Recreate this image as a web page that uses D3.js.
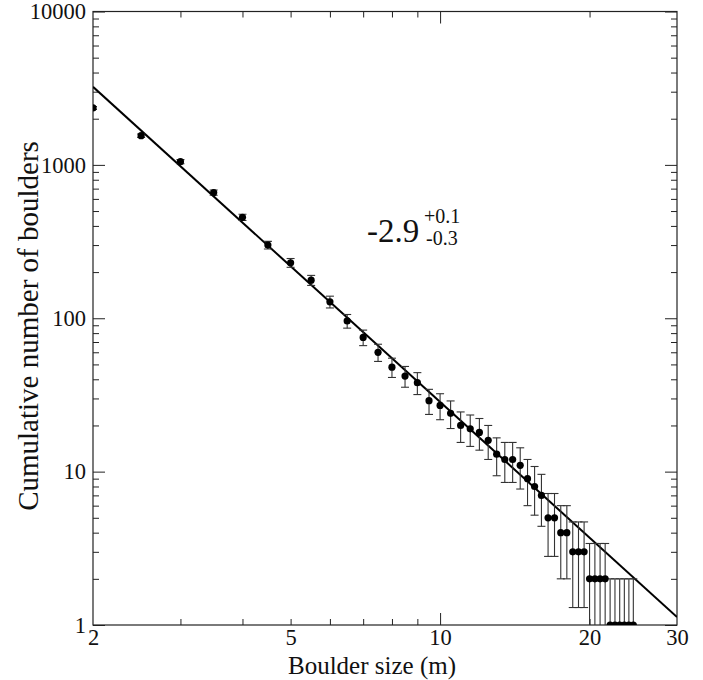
<!DOCTYPE html>
<html>
<head>
<meta charset="utf-8">
<script src="https://cdn.jsdelivr.net/npm/d3@7"></script>
<style>
  html, body { margin: 0; padding: 0; background: #fff; }
  svg { display: block; }
  text { font-family: "Liberation Serif", "Times New Roman", serif; fill: #111; }
</style>
</head>
<body>
<div id="chart"></div>
<script>
// ---- data ----
const boulderSize = [2.0, 2.5, 3.0, 3.5, 4.0, 4.5, 5.0, 5.5, 6.0, 6.5, 7.0, 7.5, 8.0, 8.5, 9.0, 9.5,
  10.0, 10.5, 11.0, 11.5, 12.0, 12.5, 13.0, 13.5, 14.0, 14.5, 15.0, 15.5, 16.0, 16.5, 17.0, 17.5,
  18.0, 18.5, 19.0, 19.5, 20.0, 20.5, 21.0, 21.5, 22.0, 22.5, 23.0, 23.5, 24.0, 24.5];
const cumulativeCount = [2350, 1550, 1050, 660, 455, 300, 230, 177, 128, 96, 75, 60, 48, 42, 38, 29,
  27, 24, 20, 19, 18, 16, 13, 12, 12, 11, 9, 8, 7, 5, 5, 4,
  4, 3, 3, 3, 2, 2, 2, 2, 1, 1, 1, 1, 1, 1];
const countError = [48.5, 39.4, 32.4, 25.7, 21.3, 17.3, 15.2, 13.3, 11.3, 9.8, 8.7, 7.7, 6.9, 6.5, 6.2, 5.4,
  5.2, 4.9, 4.5, 4.4, 4.2, 4.0, 3.6, 3.5, 3.5, 3.3, 3.0, 2.8, 2.6, 2.2, 2.2, 2.0,
  2.0, 1.7, 1.7, 1.7, 1.4, 1.4, 1.4, 1.4, 1.0, 1.0, 1.0, 1.0, 1.0, 1.0];
const fitAmplitude = 3230;     // N at 2 m
const fitExponent = -2.94;     // power-law slope
const fitRange = [2, 30];
const xTickLabels = [2, 5, 10, 20, 30];
const xMinorTicks = [3, 4, 5, 6, 7, 8, 9, 20];
const xMajorTicks = [10];
const yMajorTicks = [1, 10, 100, 1000, 10000];
const yMinorTicks = [2,3,4,5,6,7,8,9, 20,30,40,50,60,70,80,90, 200,300,400,500,600,700,800,900,
  2000,3000,4000,5000,6000,7000,8000,9000];
const slopeLabel = {main: "-2.9", plus: "+0.1", minus: "-0.3"};
const xTitle = "Boulder size (m)";
const yTitle = "Cumulative number of boulders";

// ---- layout ----
const W = 703, H = 680;
const L = 93, R = 677, T = 11.5, B = 625;

const svg = d3.select("#chart").append("svg").attr("width", W).attr("height", H);

const x = d3.scaleLog().domain([2, 30]).range([L, R]);
const y = d3.scaleLog().domain([1, 10000]).range([B, T]);

svg.append("defs").append("clipPath").attr("id", "plotClip")
  .append("rect").attr("x", L).attr("y", T).attr("width", R - L).attr("height", B - T);

const axisColor = "#222";
function styleAxis(g) {
  g.select(".domain").remove();
  g.selectAll(".tick line").attr("stroke", axisColor).attr("stroke-width", 1);
}

// minor/major ticks on all four sides (inward)
function addTicks(axisFn, scale, vals, size, transform) {
  svg.append("g").attr("transform", transform)
    .call(axisFn(scale).tickValues(vals).tickSize(size).tickFormat(""))
    .call(styleAxis);
}
addTicks(d3.axisTop, x, xMinorTicks, 6, `translate(0,${B})`);
addTicks(d3.axisTop, x, xMajorTicks, 12, `translate(0,${B})`);
addTicks(d3.axisBottom, x, xMinorTicks, 6, `translate(0,${T})`);
addTicks(d3.axisBottom, x, xMajorTicks, 12, `translate(0,${T})`);
addTicks(d3.axisRight, y, yMinorTicks, 6, `translate(${L},0)`);
addTicks(d3.axisRight, y, yMajorTicks, 12, `translate(${L},0)`);
addTicks(d3.axisLeft, y, yMinorTicks, 6, `translate(${R},0)`);
addTicks(d3.axisLeft, y, yMajorTicks, 12, `translate(${R},0)`);

// tick labels
const xLab = svg.append("g").attr("transform", `translate(0,${B})`)
  .call(d3.axisBottom(x).tickValues(xTickLabels).tickSize(0).tickPadding(4).tickFormat(d3.format("d")));
xLab.select(".domain").remove();
xLab.selectAll("text").attr("font-size", 22.5).attr("fill", "#111");

const yLab = svg.append("g").attr("transform", `translate(${L},0)`)
  .call(d3.axisLeft(y).tickValues(yMajorTicks).tickSize(0).tickPadding(7).tickFormat(d3.format("d")));
yLab.select(".domain").remove();
yLab.selectAll("text").attr("font-size", 22.5).attr("fill", "#111");

// frame
svg.append("rect").attr("x", L).attr("y", T).attr("width", R - L).attr("height", B - T)
  .attr("fill", "none").attr("stroke", axisColor).attr("stroke-width", 1.2);

// plot content
const plot = svg.append("g").attr("clip-path", "url(#plotClip)");

// fit line
const fitPts = fitRange.map(s => [s, fitAmplitude * Math.pow(s / fitRange[0], fitExponent)]);
plot.append("path")
  .attr("d", d3.line().x(d => x(d[0])).y(d => y(d[1]))(fitPts))
  .attr("fill", "none").attr("stroke", "#000").attr("stroke-width", 2);

// error bars
const data = boulderSize.map((s, i) => ({s, n: cumulativeCount[i], e: countError[i]}));
const capW = 4;
const eb = plot.append("g").attr("stroke", "#333").attr("stroke-width", 1.1);
data.forEach(d => {
  const lo = d.n - d.e;
  const yTop = y(d.n + d.e);
  const yBot = lo > 0 ? y(lo) : B + 50;
  const cx = x(d.s);
  eb.append("line").attr("x1", cx).attr("x2", cx).attr("y1", yTop).attr("y2", yBot);
  eb.append("line").attr("x1", cx - capW).attr("x2", cx + capW).attr("y1", yTop).attr("y2", yTop);
  if (lo > 0) eb.append("line").attr("x1", cx - capW).attr("x2", cx + capW).attr("y1", yBot).attr("y2", yBot);
});

// points
plot.append("g").selectAll("circle").data(data).join("circle")
  .attr("cx", d => x(d.s)).attr("cy", d => y(d.n)).attr("r", 3.6).attr("fill", "#000");

// slope annotation
const ann = svg.append("g");
ann.append("text").attr("x", 367).attr("y", 242).attr("font-size", 33).text(slopeLabel.main);
ann.append("text").attr("x", 424).attr("y", 223).attr("font-size", 20).text(slopeLabel.plus);
ann.append("text").attr("x", 426).attr("y", 245).attr("font-size", 20).text(slopeLabel.minus);

// axis titles
svg.append("text").attr("x", 372).attr("y", 674).attr("text-anchor", "middle")
  .attr("font-size", 25).text(xTitle);
svg.append("text").attr("transform", `translate(38,326) rotate(-90)`)
  .attr("text-anchor", "middle").attr("font-size", 29).text(yTitle);
</script>
</body>
</html>
